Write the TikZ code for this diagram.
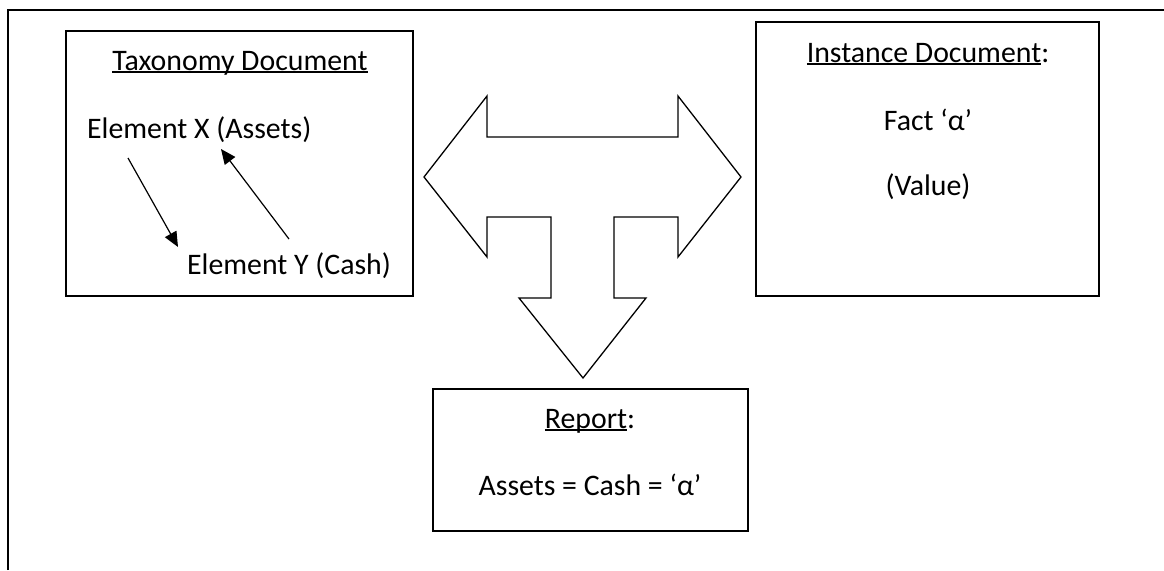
\documentclass[tikz,border=0pt]{standalone}
\usepackage{fontspec}
\setmainfont{Carlito}
\usetikzlibrary{arrows.meta}
\newcommand\myul[1]{\leavevmode\setbox0\hbox{#1}\rlap{\rule[-2.6pt]{\wd0}{1.5pt}}\box0}
\begin{document}
\begin{tikzpicture}[x=1pt,y=-1pt,
  box/.style={draw,line width=1.6pt,inner sep=0pt},
  txt/.style={anchor=base,inner sep=0pt,font=\fontsize{29.8}{35}\selectfont},
  rel/.style={line width=1.2pt,-{Triangle[length=15pt,width=13pt]}},
  bigarrow/.style={draw,line width=1.3pt,line join=miter}]
\useasboundingbox (0,0) rectangle (1164,570);
% outer frame (open at right and bottom)
\draw[line width=2pt] (8,570) -- (8,10) -- (1164,10);
% boxes
\node[box,minimum width=347pt,minimum height=265pt] (tax) at (239.5,163.5) {};
\node[box,minimum width=343pt,minimum height=274pt] (inst) at (927.5,159) {};
\node[box,minimum width=315pt,minimum height=142pt] (rep) at (590.5,460) {};
% taxonomy texts
\node[txt] (taxt) at (240,70) {\myul{Taxonomy Document}};
\node[txt,anchor=base west] (ex) at (87,138) {Element X (Assets)};
\node[txt,anchor=base west] (ey) at (187,274) {Element Y (Cash)};
\coordinate (a1s) at (128,158);
\coordinate (a1e) at (178,247);
\coordinate (a2s) at (289,239);
\coordinate (a2e) at (221,149);
\draw[rel] (a1s) -- (a1e);
\draw[rel] (a2s) -- (a2e);
% instance texts
\node[txt] (instt) at (928,62) {\myul{Instance Document}:};
\node[txt] (fact) at (928,130) {Fact ‘α’};
\node[txt] (val) at (928,195) {(Value)};
% report texts
\node[txt] (rept) at (590,428) {\myul{Report}:};
\node[txt] (eq) at (590,495) {Assets = Cash = ‘α’};
% T-shaped three-way arrow
\draw[bigarrow] (424,177) -- (487,96) -- (487,137) -- (678,137) -- (678,96)
  -- (741,177) -- (678,257) -- (678,217) -- (614,217) -- (614,298)
  -- (646,298) -- (583,378) -- (519,298) -- (551,298) -- (551,217)
  -- (487,217) -- (487,257) -- cycle;
\end{tikzpicture}
\end{document}
